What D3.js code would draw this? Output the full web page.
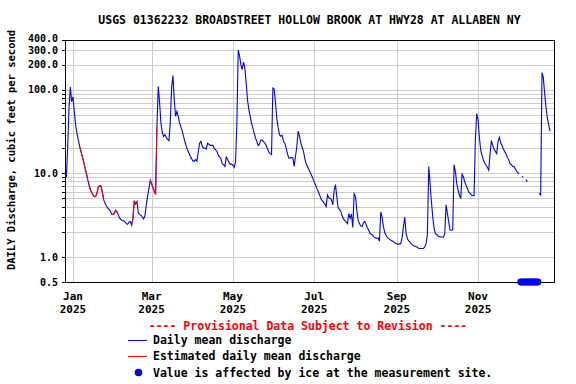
<!DOCTYPE html>
<html>
<head>
<meta charset="utf-8">
<script src="https://cdn.jsdelivr.net/npm/d3@7"></script>
<style>
html, body { margin: 0; padding: 0; background: #fff; }
text { font-family: "DejaVu Sans Mono", monospace; font-weight: bold; fill: #000; }
</style>
</head>
<body>
<div id="chart"></div>
<script>
const title = "USGS 01362232 BROADSTREET HOLLOW BROOK AT HWY28 AT ALLABEN NY";
const yTitle = "DAILY Discharge, cubic feet per second";
const yTickValues = [0.5, 1, 10, 100, 200, 300, 400];
const monthTicks = ["2025-01-01", "2025-03-01", "2025-05-01", "2025-07-01", "2025-09-01", "2025-11-01"];

// daily mean discharge, cfs, one value per day starting Dec 26 2024 (null = no value)
const firstDay = "2024-12-26";
const flow = [
  10.2, 8.8, 20, 60, 108, 72, 82, 55, 38, 30,
  25, 21, 18.3, 16, 13.8, 11.6, 10.1, 8.5, 7.3, 6.4,
  5.9, 5.55, 5.25, 5.3, 5.8, 6.8, 7.1, 7.0, 6.0, 4.85,
  4.4, 4.1, 3.85, 3.7, 3.55, 3.25, 3.2, 3.3, 3.6, 3.45,
  3.2, 2.9, 2.8, 2.7, 2.7, 2.62, 2.5, 2.45, 2.6, 2.65,
  2.4, 2.9, 4.7, 4.3, 4.6, 3.4, 3.2, 3.15, 3.0, 2.85,
  3.1, 4.2, 5.3, 6.6, 8.3, 7.5, 6.8, 6.1, 5.6, 36,
  110, 70, 40, 31, 27.5, 29, 27, 25.5, 24.6, 40,
  105, 148, 76, 48, 55, 48, 40, 36, 32, 27.5,
  24, 21, 19, 17.5, 16, 15, 14, 14, 14.6, 14,
  18, 23, 24.2, 21, 20, 20, 19.5, 23, 22.4, 21.6,
  21.6, 21.6, 19.8, 19.2, 18.3, 16.5, 15.7, 15, 13, 12.8,
  12.1, 15.7, 14.6, 13.6, 12.9, 12.9, 12.5, 11.8, 13.7, 40,
  300, 255, 200, 175, 215, 180, 120, 75, 58, 48,
  40, 35, 30, 26.5, 24, 21.5, 22.4, 25, 25, 24,
  23, 21.5, 19.5, 18, 17.2, 16.7, 105, 102, 70, 45,
  35, 29, 27.8, 28.5, 24, 23, 20, 17, 15.3, 15.2,
  15.5, 15.3, 12.1, 16, 21, 32, 27.8, 23, 20.5, 18.3,
  15, 13, 12.1, 11.2, 10.3, 9.5, 8.7, 7.9, 7.3, 6.6,
  6.1, 5.55, 5.0, 4.7, 4.5, 4.3, 4.0, 5.5, 5.1, 5.0,
  4.8, 4.2, 6.2, 7.3, 5.2, 3.9, 3.7, 3.5, 3.1, 2.85,
  2.72, 2.62, 2.5, 3.3, 2.9, 3.25, 2.25, 5.7, 5.3, 3.6,
  2.75, 2.5, 2.33, 2.3, 2.55, 2.65, 2.45, 2.22, 2.08, 1.9,
  1.85, 1.82, 1.72, 1.69, 1.66, 1.68, 1.54, 3.45, 2.95, 2.3,
  1.94, 1.8, 1.7, 1.65, 1.6, 1.57, 1.54, 1.5, 1.45, 1.43,
  1.42, 1.42, 1.44, 1.7, 2.3, 2.98, 1.9, 1.65, 1.55, 1.5,
  1.42, 1.38, 1.34, 1.34, 1.31, 1.28, 1.26, 1.26, 1.26, 1.26,
  1.31, 1.45, 1.85, 12.1, 7.5, 4.6, 3.0, 2.2, 1.9, 1.85,
  1.77, 1.75, 1.73, 1.73, 1.72, 1.9, 4.2, 3.3, 2.6, 2.1,
  2.08, 2.1, 12.7, 10.5, 7.6, 6.3, 5.5, 5.0, 9.8, 9.1,
  7.9, 7.2, 6.6, 6.0, 5.8, 5.5, 5.4, 5.4, 26, 52,
  44, 27, 19, 16.4, 14.3, 13.3, 12.5, 11.8, 10.9, 17,
  24.6, 21.6, 19.6, 18.3, 17.2, 24, 27, 23, 21.5, 19.5,
  18.3, 17, 15.6, 14.6, 13, 12.7, 12.1, 12, 11.3, 10.6,
  10.1, 9.9, null, 9.2, 9.0, null, 8.4, 7.9, null, null,
  null, null, null, null, null, null, 5.8, 5.5, 161, 140,
  90, 62, 46, 38, 32
];

// estimated periods (first and last date)
const estimated = [
  ["2024-12-26", "2024-12-27"],
  ["2025-01-06", "2025-01-12"],
  ["2025-01-13", "2025-01-24"],
  ["2025-01-30", "2025-02-03"],
  ["2025-02-14", "2025-02-18"],
  ["2025-02-28", "2025-03-05"]
];

// days with ice-affected values
const iceDays = ["2025-12-03", "2025-12-04", "2025-12-05", "2025-12-06", "2025-12-07",
  "2025-12-08", "2025-12-09", "2025-12-10", "2025-12-11", "2025-12-12",
  "2025-12-13", "2025-12-14", "2025-12-15", "2025-12-16"];

const W = 576, H = 384;
const m = { left: 65, right: 554, top: 39.5, bottom: 282 };
const parse = d3.utcParse("%Y-%m-%d");

const svg = d3.select("#chart")
  .append("svg")
  .attr("width", W)
  .attr("height", H);

const x = d3.scaleUtc()
  .domain([parse("2024-12-26"), parse("2025-12-28")])
  .range([m.left, m.right]);
const y = d3.scaleLog()
  .domain([0.5, 400])
  .range([m.bottom, m.top]);

const start = parse(firstDay);
const data = flow.map((v, i) => ({ date: d3.utcDay.offset(start, i), v: v }));

// grid
let minor = [];
[1, 10, 100].forEach(dec => {
  for (let k = 1; k <= 9; k++) {
    if (k * dec < 400) minor.push(k * dec);
  }
});
svg.append("g").selectAll("line")
  .data(minor)
  .join("line")
  .attr("x1", m.left).attr("x2", m.right)
  .attr("y1", d => Math.round(y(d)) + 0.5)
  .attr("y2", d => Math.round(y(d)) + 0.5)
  .attr("stroke", "#cccccc")
  .attr("shape-rendering", "crispEdges");

svg.append("g").selectAll("line")
  .data(monthTicks)
  .join("line")
  .attr("x1", d => Math.round(x(parse(d))) + 0.5)
  .attr("x2", d => Math.round(x(parse(d))) + 0.5)
  .attr("y1", m.top).attr("y2", m.bottom)
  .attr("stroke", "#cccccc")
  .attr("shape-rendering", "crispEdges");

// y axis
const yAxis = d3.axisLeft(y)
  .tickValues(minor.concat([0.5, 400]))
  .tickSize(3)
  .tickFormat(d => yTickValues.includes(d) ? d.toFixed(1) : "");
const ga = svg.append("g")
  .attr("transform", `translate(${m.left},0)`)
  .call(yAxis);
ga.select(".domain").remove();
ga.selectAll("line").attr("stroke", "#000").attr("shape-rendering", "crispEdges");
ga.selectAll("text")
  .attr("x", -7)
  .attr("dy", d => d == 400 ? "0.22em" : d == 300 ? "0.4em" : "0.32em")
  .style("font-size", "10px")
  .style("font-family", "'DejaVu Sans Mono', monospace")
  .style("font-weight", "bold");

// x labels
const xl = svg.append("g").selectAll("g")
  .data(monthTicks)
  .join("g")
  .attr("transform", d => `translate(${x(parse(d))},0)`);
xl.append("text")
  .attr("y", 300)
  .attr("text-anchor", "middle")
  .style("font-size", "11px")
  .text(d => d3.utcFormat("%b")(parse(d)));
xl.append("text")
  .attr("y", 313)
  .attr("text-anchor", "middle")
  .style("font-size", "11px")
  .text(d => d3.utcFormat("%Y")(parse(d)));

// discharge lines
const line = d3.line()
  .defined(d => d.v != null)
  .x(d => x(d.date))
  .y(d => y(d.v));

svg.append("path")
  .datum(data)
  .attr("d", line)
  .attr("fill", "none")
  .attr("stroke", "#0000ff")
  .attr("stroke-width", 1.1);

estimated.forEach(r => {
  const a = parse(r[0]), b = parse(r[1]);
  svg.append("path")
    .datum(data.filter(d => d.date >= a && d.date <= b))
    .attr("d", line)
    .attr("fill", "none")
    .attr("stroke", "#ff0000")
    .attr("stroke-width", 1.1);
});

// frame
svg.append("rect")
  .attr("x", m.left + 0.5).attr("y", Math.round(m.top) + 0.5)
  .attr("width", m.right - m.left)
  .attr("height", m.bottom - Math.round(m.top))
  .attr("fill", "none")
  .attr("stroke", "#000")
  .attr("shape-rendering", "crispEdges");

// ice
svg.append("g").selectAll("circle")
  .data(iceDays)
  .join("circle")
  .attr("cx", d => x(parse(d)))
  .attr("cy", y(0.5))
  .attr("r", 3.4)
  .attr("fill", "#0000ff");

// titles
svg.append("text")
  .attr("x", (m.left + m.right) / 2)
  .attr("y", 24)
  .attr("text-anchor", "middle")
  .style("font-size", "11.5px")
  .text(title);

svg.append("text")
  .attr("transform", "translate(15,150) rotate(-90)")
  .attr("text-anchor", "middle")
  .style("font-size", "10.5px")
  .text(yTitle);

// legend
svg.append("text")
  .attr("x", 308)
  .attr("y", 330)
  .attr("text-anchor", "middle")
  .style("font-size", "11.5px")
  .style("fill", "#ff0000")
  .text("---- Provisional Data Subject to Revision ----");

const legend = [
  { label: "Daily mean discharge", color: "#0000ff", y: 344 },
  { label: "Estimated daily mean discharge", color: "#ff0000", y: 360 }
];
legend.forEach(l => {
  svg.append("line")
    .attr("x1", 128).attr("x2", 147)
    .attr("y1", l.y - 3.5).attr("y2", l.y - 3.5)
    .attr("stroke", l.color);
  svg.append("text")
    .attr("x", 153).attr("y", l.y)
    .style("font-size", "11.5px")
    .text(l.label);
});
svg.append("circle")
  .attr("cx", 138.5).attr("cy", 372.5).attr("r", 3.8)
  .attr("fill", "#0000ff");
svg.append("text")
  .attr("x", 153).attr("y", 376.5)
  .style("font-size", "11.5px")
  .text("Value is affected by ice at the measurement site.");
</script>
</body>
</html>
